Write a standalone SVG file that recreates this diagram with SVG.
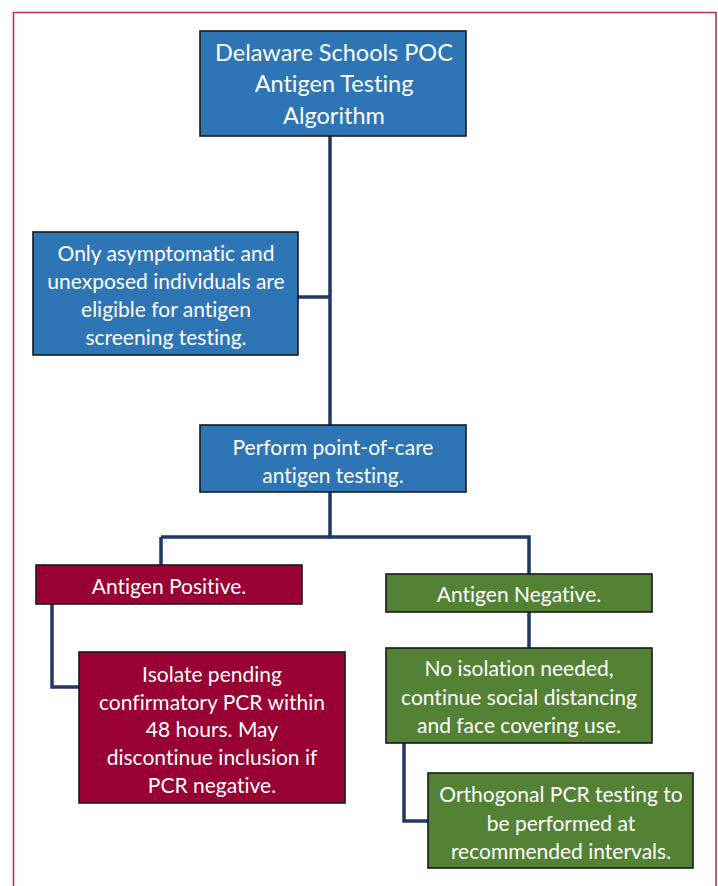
<svg xmlns="http://www.w3.org/2000/svg" width="718" height="886" viewBox="0 0 718 886">
<style>
.box{stroke:#1a1a1a;stroke-width:1.6}
.blue{fill:#2e75b6}
.red{fill:#990033}
.green{fill:#548235}
.t{fill:#ffffff;font-family:Lato,"Liberation Sans",sans-serif;font-size:21px;text-anchor:middle;font-variant-ligatures:none}
.tt{font-size:23.5px}
.conn{fill:none;stroke:#1f3864;stroke-width:3.5;stroke-linejoin:miter}
</style>
<rect width="718" height="886" fill="#ffffff"/>
<path d="M13.5,886 V12.5 H716 V886" fill="none" stroke="#c0304f" stroke-width="1.6"/>
<g id="connectors">
<path class="conn" d="M330,136 V425"/>
<path class="conn" d="M298,297 H330"/>
<path class="conn" d="M330,492 V537 H529 V574"/>
<path class="conn" d="M161,537 H330"/>
<path class="conn" d="M161,537 V565"/>
<path class="conn" d="M52,604 V687 H79"/>
<path class="conn" d="M529,612 V648"/>
<path class="conn" d="M404,743 V821 H428"/>
</g>
<g id="title">
<rect class="box blue" x="200" y="31" width="266" height="105"/>
<text class="t tt" x="334" y="61">Delaware Schools POC</text>
<text class="t tt" x="334" y="92">Antigen Testing</text>
<text class="t tt" x="334" y="124">Algorithm</text>
</g>
<g id="eligibility">
<rect class="box blue" x="33" y="232" width="265" height="123"/>
<text class="t" x="166" y="261">Only asymptomatic and</text>
<text class="t" x="166" y="289">unexposed individuals are</text>
<text class="t" x="166" y="317">eligible for antigen</text>
<text class="t" x="166" y="345">screening testing.</text>
</g>
<g id="perform">
<rect class="box blue" x="200" y="425" width="266" height="67"/>
<text class="t" x="333" y="455">Perform point-of-care</text>
<text class="t" x="333" y="483">antigen testing.</text>
</g>
<g id="positive">
<rect class="box red" x="36" y="565" width="266" height="39"/>
<text class="t" x="169" y="594">Antigen Positive.</text>
</g>
<g id="negative">
<rect class="box green" x="386" y="574" width="266" height="38"/>
<text class="t" x="519" y="602">Antigen Negative.</text>
</g>
<g id="isolate">
<rect class="box red" x="79" y="652" width="266" height="151"/>
<text class="t" x="212" y="682">Isolate pending</text>
<text class="t" x="212" y="710">confirmatory PCR within</text>
<text class="t" x="212" y="737">48 hours. May</text>
<text class="t" x="212" y="765">discontinue inclusion if</text>
<text class="t" x="212" y="793">PCR negative.</text>
</g>
<g id="noisolation">
<rect class="box green" x="386" y="648" width="266" height="95"/>
<text class="t" x="519" y="676">No isolation needed,</text>
<text class="t" x="519" y="705">continue social distancing</text>
<text class="t" x="519" y="733">and face covering use.</text>
</g>
<g id="orthogonal">
<rect class="box green" x="428" y="773" width="265" height="95"/>
<text class="t" x="561" y="802">Orthogonal PCR testing to</text>
<text class="t" x="561" y="831">be performed at</text>
<text class="t" x="561" y="859">recommended intervals.</text>
</g>
</svg>
